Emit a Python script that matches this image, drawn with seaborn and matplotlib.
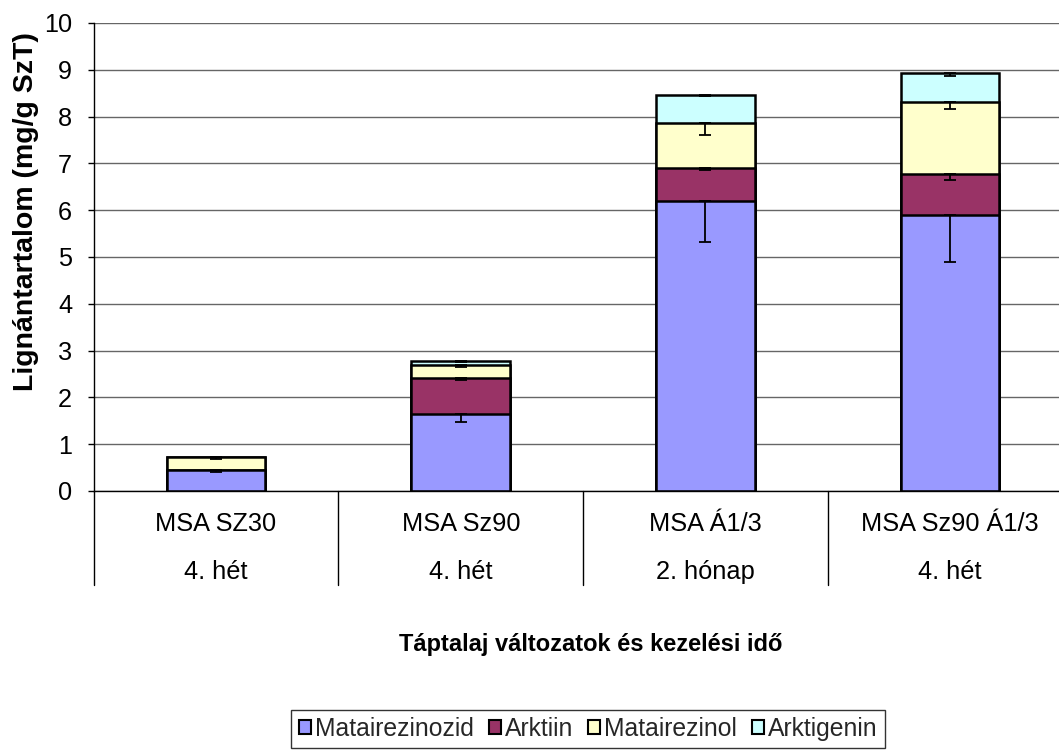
import numpy as np
import matplotlib
matplotlib.use("Agg")
import matplotlib.pyplot as plt
from matplotlib.patches import Patch
import seaborn as sns

# Lignan content per medium variant and treatment time (mg/g dry matter)
categories = ["MSA SZ30", "MSA Sz90", "MSA Á1/3", "MSA Sz90 Á1/3"]
periods = ["4. hét", "4. hét", "2. hónap", "4. hét"]

series_names = ["Matairezinozid", "Arktiin", "Matairezinol", "Arktigenin"]
matairezinozid = [0.45, 1.65, 6.20, 5.89]
arktiin = [0.00, 0.77, 0.70, 0.88]
matairezinol = [0.27, 0.27, 0.96, 1.55]
arktigenin = [0.00, 0.09, 0.60, 0.62]

err_matairezinozid = [0.05, 0.17, 0.89, 1.00]
err_arktiin = [0.00, 0.05, 0.04, 0.13]
err_matairezinol = [0.04, 0.03, 0.25, 0.16]
err_arktigenin = [0.00, 0.02, 0.01, 0.07]

colors = ["#9999FF", "#993366", "#FFFFCC", "#CCFFFF"]

sns.set_theme(style="white")
plt.rcParams["font.family"] = ["Liberation Sans", "DejaVu Sans"]

W, H = 1059, 751
fig = plt.figure(figsize=(W / 100, H / 100), dpi=100)
ax = fig.add_axes([93.7 / W, 1 - 491 / H, (1072.5 - 93.7) / W, (491 - 23) / H])

layers = np.array([matairezinozid, arktiin, matairezinol, arktigenin])
errors = np.array([err_matairezinozid, err_arktiin, err_matairezinol, err_arktigenin])
tops = np.cumsum(layers, axis=0)
pos = np.arange(len(categories))

# Stacked bars: draw cumulative totals from the top layer downwards
for i in range(len(series_names) - 1, -1, -1):
    sns.barplot(x=categories, y=tops[i], color=colors[i], saturation=1,
                edgecolor="black", linewidth=1.8, width=0.403,
                errorbar=None, ax=ax, zorder=2)

# Minus-only error bars at the top of every segment
for i in range(len(series_names)):
    m = errors[i] > 0
    ax.errorbar(pos[m], tops[i][m], yerr=[errors[i][m], np.zeros(m.sum())],
                fmt="none", ecolor="black", elinewidth=1.3, capsize=4.3,
                capthick=1.3, zorder=5)

ax.set_xlim(-0.5, 3.5)
ax.set_ylim(0, 10)
ax.set_yticks(range(0, 11))
ax.yaxis.grid(True, color="#666666", linewidth=1.0)
ax.xaxis.grid(False)
ax.set_axisbelow(True)
for s in ["top", "right"]:
    ax.spines[s].set_visible(False)
ax.spines["left"].set_color("black")
ax.spines["left"].set_linewidth(1.0)
ax.spines["bottom"].set_color("black")
ax.spines["bottom"].set_linewidth(1.0)

ax.tick_params(axis="y", which="major", left=True, length=4.5, width=1.0,
               color="black", direction="out", pad=11, labelsize=18.2,
               labelcolor="black")
ax.set_xticks(pos)
ax.set_xticklabels(categories)
ax.tick_params(axis="x", length=0, pad=15, labelsize=18.3, labelcolor="black")
ax.set_xlabel("")
ax.set_ylabel("")

# Second category row and the separators of the category table
xt = ax.get_xaxis_transform()
for p, lab in zip(pos, periods):
    ax.text(p, -81 / 468, lab, transform=xt, ha="center", va="center",
            fontsize=18.3, color="black")
for b in np.arange(-0.5, 4.0, 1.0):
    ax.plot([b, b], [0, -94 / 468], transform=xt, color="black",
            linewidth=1.0, clip_on=False)

fig.text(26 / W, 1 - 212 / H, "Lignántartalom (mg/g SzT)", rotation=90,
         ha="center", va="center", fontsize=20.5, fontweight="bold", color="black")
fig.text(591 / W, 1 - 645 / H, "Táptalaj változatok és kezelési idő",
         ha="center", va="center", fontsize=17, fontweight="bold", color="black")

handles = [Patch(facecolor=c, edgecolor="black", linewidth=1.5) for c in colors]
leg = fig.legend(handles, series_names, loc="center",
                 bbox_to_anchor=(588 / W, 1 - 729 / H), ncol=4, fontsize=17.8,
                 frameon=True, fancybox=False, handlelength=0.5,
                 handleheight=0.5, handletextpad=0.15, columnspacing=0.6,
                 borderpad=0.3, borderaxespad=0)
leg.get_frame().set_edgecolor("black")
leg.get_frame().set_linewidth(1.0)

fig.savefig("out.png", dpi=100)
